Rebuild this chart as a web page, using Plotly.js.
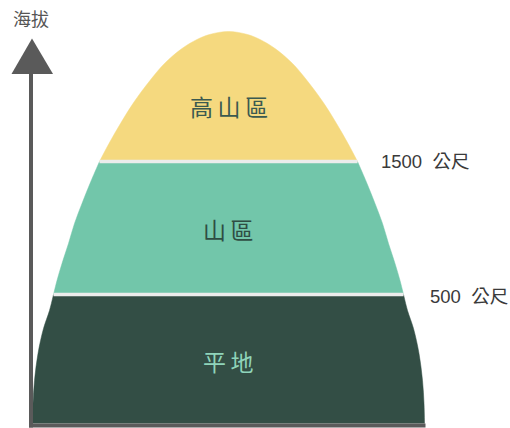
<!DOCTYPE html>
<html><head><meta charset="utf-8">
<script src="https://cdn.plot.ly/plotly-3.0.1.min.js"></script>
<style>html,body{margin:0;padding:0;background:#fff;}#chart{width:510px;height:428px;}</style>
</head><body><div id="chart"></div>
<script>
// Mountain outline: height above ground (diagram units) and half-width there
const profileHeight    = [0, 20, 43, 70, 95, 113, 129, 143, 160, 180, 200, 220, 240, 262, 280, 300, 320, 343, 360, 375, 384, 389, 392];
const profileHalfWidth = [196, 195.5, 194, 190.5, 185, 179, 175, 171.5, 166.5, 160, 154, 146.5, 138.5, 129, 119.5, 108, 95.5, 78.5, 64, 46.5, 31.5, 19, 0];
// Zones, bottom to top
const zoneNames  = ['平\u2009地', '山\u2009區', '高\u2009山\u2009區'];
const zoneBounds = [0, 129, 262, 392];          // band edges in diagram height
const boundaryLabels = ['500\u00a0\u00a0公尺', '1500\u00a0\u00a0公尺'];
const axisLabel = '海拔';

const zoneColors = ['#334E45', '#72C6AA', '#F5D97F'];
const zoneTextColors = ['#8FD4BA', '#2F4D43', '#3B5A50'];
const cjk = '"Noto Sans CJK TC", "Noto Sans CJK SC", sans-serif';

function slice(lo, hi) {
  const h = [], w = [];
  profileHeight.forEach((v, i) => { if (v >= lo && v <= hi) { h.push(v); w.push(profileHalfWidth[i]); } });
  return {h, w};
}
function halfWidthAt(hv) { return profileHalfWidth[profileHeight.indexOf(hv)]; }

const traces = [];
for (let z = 0; z < 2; z++) {
  const s = slice(zoneBounds[z], zoneBounds[z + 1]);
  traces.push({x: s.w.map(v => -v), y: s.h, mode: 'lines', hoverinfo: 'skip',
    line: {width: 0.5, shape: 'spline', color: zoneColors[z]}});
  traces.push({x: s.w, y: s.h, mode: 'lines', fill: 'tonextx', fillcolor: zoneColors[z], hoverinfo: 'skip',
    line: {width: 0.5, shape: 'spline', color: zoneColors[z]}});
}
{
  const s = slice(zoneBounds[2], zoneBounds[3]);
  const xs = s.w.map(v => -v).concat(s.w.slice(0, -1).reverse());
  const ys = s.h.concat(s.h.slice(0, -1).reverse());
  traces.push({x: xs, y: ys, mode: 'lines', fill: 'toself', fillcolor: zoneColors[2], hoverinfo: 'skip',
    line: {width: 0.5, shape: 'spline', color: zoneColors[2]}});
}
// separator lines at the zone boundaries
[zoneBounds[1], zoneBounds[2]].forEach(b => {
  const w = halfWidthAt(b);
  traces.push({x: [-w, w], y: [b, b], mode: 'lines', hoverinfo: 'skip', line: {width: 3.5, color: '#ECECEC'}});
});

const annotations = [];
zoneNames.forEach((t, i) => {
  const yPos = [63, 194.5, 318][i];
  annotations.push({x: 0, y: yPos, text: t, showarrow: false, xanchor: 'center', yanchor: 'middle',
    font: {family: cjk, size: 23, color: zoneTextColors[i]}});
});
[zoneBounds[1], zoneBounds[2]].forEach((b, i) => {
  annotations.push({x: halfWidthAt(b) + [24, 21][i], y: b + [-2, 0][i], text: boundaryLabels[i], showarrow: false,
    xanchor: 'left', yanchor: 'middle',
    font: {family: '"Liberation Sans", Arial, "Noto Sans CJK TC", sans-serif', size: 18.5, color: '#3A3A3A'}});
});
annotations.push({x: -197.5, y: 406, text: axisLabel, showarrow: false, xanchor: 'center', yanchor: 'middle',
  font: {family: cjk, size: 18, color: '#555555'}});

const axisColor = '#5A5A5A';
const shapes = [
  {type: 'line', xref: 'x', yref: 'y', x0: -197.5, x1: -197.5, y0: 352, y1: -4, line: {color: axisColor, width: 4}},
  {type: 'line', xref: 'x', yref: 'y', x0: -199.5, x1: 197, y0: -2, y1: -2, line: {color: axisColor, width: 4}},
  {type: 'path', xref: 'x', yref: 'y', path: 'M -196.5 385 L -217 349.5 L -175.5 349.5 Z',
    fillcolor: axisColor, line: {width: 0}}
];

const layout = {
  width: 510, height: 428, margin: {l: 0, r: 0, t: 0, b: 0},
  paper_bgcolor: '#FFFFFF', plot_bgcolor: '#FFFFFF', showlegend: false,
  xaxis: {range: [-228.5, 281.5], visible: false, fixedrange: true},
  yaxis: {range: [-4.5, 423.5], visible: false, fixedrange: true},
  shapes, annotations
};
Plotly.newPlot('chart', traces, layout, {displayModeBar: false, staticPlot: true});
</script></body></html>
